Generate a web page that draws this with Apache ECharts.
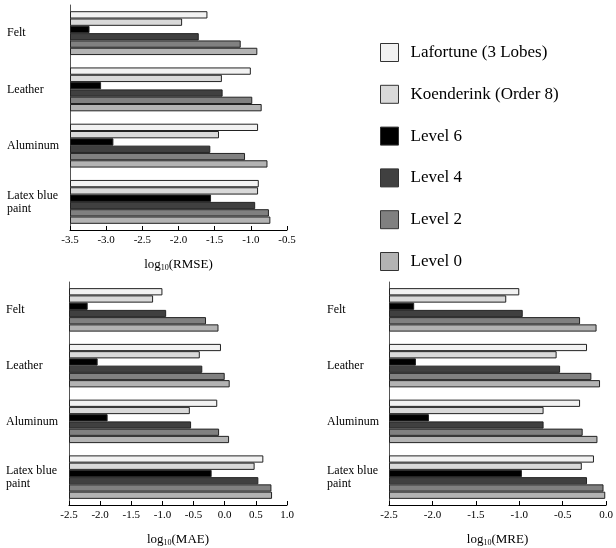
<!DOCTYPE html>
<html><head><meta charset="utf-8">
<script src="https://cdn.jsdelivr.net/npm/echarts@6/dist/echarts.min.js"></script>
<style>html,body{margin:0;padding:0;background:#fff}#c{width:616px;height:548px}</style>
</head><body><div id="c"></div>
<script>
const categories = ['Felt', 'Leather', 'Aluminum', 'Latex blue\npaint'];
const seriesNames = ['Lafortune (3 Lobes)', 'Koenderink (Order 8)', 'Level 6', 'Level 4', 'Level 2', 'Level 0'];
const seriesColors = ['#f2f2f2', '#d9d9d9', '#000000', '#404040', '#808080', '#b3b3b3'];

// log10(RMSE), per series across categories
const rmseLafortune = [-1.60, -1.00, -0.90, -0.89];
const rmseKoenderink = [-1.95, -1.40, -1.44, -0.90];
const rmseLevel6 = [-3.23, -3.07, -2.90, -1.55];
const rmseLevel4 = [-1.72, -1.39, -1.56, -0.94];
const rmseLevel2 = [-1.14, -0.98, -1.08, -0.75];
const rmseLevel0 = [-0.91, -0.85, -0.77, -0.73];

// log10(MAE)
const maeLafortune = [-1.00, -0.06, -0.12, 0.62];
const maeKoenderink = [-1.15, -0.40, -0.56, 0.48];
const maeLevel6 = [-2.20, -2.04, -1.88, -0.21];
const maeLevel4 = [-0.94, -0.36, -0.54, 0.54];
const maeLevel2 = [-0.30, 0.00, -0.09, 0.75];
const maeLevel0 = [-0.10, 0.08, 0.07, 0.76];

// log10(MRE)
const mreLafortune = [-1.00, -0.22, -0.30, -0.14];
const mreKoenderink = [-1.15, -0.57, -0.72, -0.28];
const mreLevel6 = [-2.21, -2.19, -2.04, -0.97];
const mreLevel4 = [-0.96, -0.53, -0.72, -0.22];
const mreLevel2 = [-0.30, -0.17, -0.27, -0.03];
const mreLevel0 = [-0.11, -0.07, -0.10, -0.01];

const rmseTicks = { min: -3.5, max: -0.5, interval: 0.5 };
const maeTicks = { min: -2.5, max: 1.0, interval: 0.5 };
const mreTicks = { min: -2.5, max: 0.0, interval: 0.5 };

const panels = [
  { data: [rmseLafortune, rmseKoenderink, rmseLevel6, rmseLevel4, rmseLevel2, rmseLevel0], ticks: rmseTicks, metric: 'RMSE' },
  { data: [maeLafortune, maeKoenderink, maeLevel6, maeLevel4, maeLevel2, maeLevel0], ticks: maeTicks, metric: 'MAE' },
  { data: [mreLafortune, mreKoenderink, mreLevel6, mreLevel4, mreLevel2, mreLevel0], ticks: mreTicks, metric: 'MRE' }
];

const FONT = '"Liberation Serif", "DejaVu Serif", serif';
const grids = [
  { left: 70, top: 5, width: 217, height: 225 },
  { left: 69, top: 282, width: 218, height: 224 },
  { left: 389, top: 282, width: 218, height: 224 }
];

const xAxes = [], yAxes = [], series = [];
panels.forEach((p, gi) => {
  xAxes.push({
    gridIndex: gi, type: 'value', min: p.ticks.min, max: p.ticks.max, interval: p.ticks.interval,
    startValue: p.ticks.min,
    axisLine: { show: true, onZero: false, lineStyle: { color: '#000', width: 1 } },
    axisTick: { show: true, inside: true, length: 4, lineStyle: { color: '#000' } },
    splitLine: { show: false },
    axisLabel: { color: '#000', fontFamily: FONT, fontSize: 11, margin: 5, formatter: v => v.toFixed(1) },
    name: '{t|log}{s|10}{t|(' + p.metric + ')}',
    nameLocation: 'middle', nameGap: 28,
    nameTextStyle: { rich: {
      t: { fontFamily: FONT, fontSize: 13, color: '#000' },
      s: { fontFamily: FONT, fontSize: 8, color: '#000', verticalAlign: 'bottom', padding: [6, 0, 0, 0] }
    } }
  });
  yAxes.push({
    gridIndex: gi, type: 'category', data: categories, inverse: true,
    axisLine: { show: true, onZero: false, lineStyle: { color: '#555', width: 1 } },
    axisTick: { show: false },
    axisLabel: { color: '#000', fontFamily: FONT, fontSize: 12, align: 'left', margin: gi === 2 ? 62 : 63, lineHeight: 13 }
  });
  p.data.forEach((vals, si) => {
    series.push({
      type: 'bar', name: seriesNames[si], xAxisIndex: gi, yAxisIndex: gi,
      data: vals, barGap: '0%', barCategoryGap: '22%',
      itemStyle: { color: seriesColors[si], borderColor: '#222', borderWidth: 1 },
      emphasis: { disabled: true }, animation: false
    });
  });
});

const chart = echarts.init(document.getElementById('c'), null, { renderer: 'canvas' });
chart.setOption({
  backgroundColor: '#fff',
  animation: false,
  grid: grids,
  xAxis: xAxes,
  yAxis: yAxes,
  legend: {
    orient: 'vertical', left: 375, top: 38,
    itemWidth: 18, itemHeight: 18, itemGap: 22.8,
    icon: 'rect', selectedMode: false,
    data: seriesNames,
    itemStyle: { borderColor: '#333', borderWidth: 1 },
    textStyle: { fontFamily: FONT, fontSize: 17, color: '#000', padding: [0, 0, 0, 7] }
  },
  series: series
});
</script></body></html>
